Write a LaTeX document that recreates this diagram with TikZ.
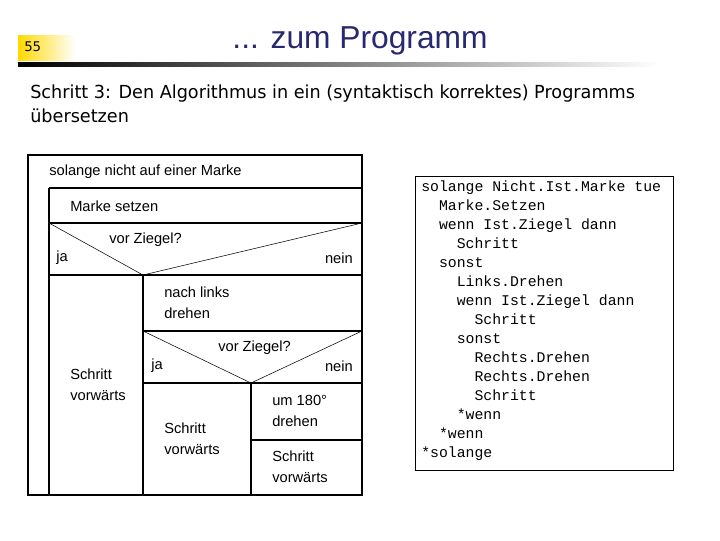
\documentclass[tikz,border=0pt]{standalone}
\usepackage{fontspec}
\setmainfont{Liberation Sans}
\newfontfamily\codefont{Liberation Mono}
\newfontfamily\tahoma{DejaVu Sans}
\usetikzlibrary{positioning}
\definecolor{titleblue}{RGB}{40,40,110}
\begin{document}
\begin{tikzpicture}[x=0.75pt,y=-0.75pt,
  lab/.style={anchor=west,font=\fontsize{11}{13}\selectfont,align=left,inner sep=0pt},
  box/.style={draw,line width=0.9pt}]
\useasboundingbox (0,0) rectangle (720,540);
% header
\shade[left color=yellow!70!orange,right color=white] (18,35) rectangle (75,60);
\node[anchor=west,inner sep=0pt,font=\fontsize{10}{12}\selectfont\tahoma] (pg) at (24,47) {55};
\shade[left color=black,right color=white] (18,62) rectangle (660,66);
\node[inner sep=0pt,text=titleblue,font=\fontsize{23.8}{28}\selectfont] (title) at (360,41) {... zum Programm};
\node[anchor=north west,inner sep=0pt,align=left,font=\fontsize{13.5}{17.5}\selectfont\tahoma\addfontfeatures{FakeStretch=0.98}] (sub) at (30,85) {Schritt 3: Den Algorithmus in ein (syntaktisch korrektes) Programms\\übersetzen};
% structogram
\draw[box] (28,155) rectangle (362,495);
\draw[box] (49,188) -- (362,188);
\draw[box] (49,188) -- (49,495);
\draw[box] (49,223) -- (362,223);
\draw[box] (49,275) -- (362,275);
\draw (49,223) -- (143,275) -- (362,223);
\draw[box] (143,275) -- (143,495);
\draw[box] (143,331) -- (362,331);
\draw[box] (143,383) -- (362,383);
\draw (143,331) -- (251,383) -- (362,331);
\draw[box] (251,383) -- (251,495);
\draw[box] (251,440) -- (362,440);
\node[lab] (l1) at (49,172) {solange nicht auf einer Marke};
\node[lab] (l2) at (70,206) {Marke setzen};
\node[lab] (d1) at (109,240) {vor Ziegel?};
\node[lab] (j1) at (56,258) {ja};
\node[lab,anchor=east] (n1) at (353,258) {nein};
\node[lab,anchor=west] (s1) at (70,385) {Schritt\\[3pt]vorwärts};
\node[lab] (nl) at (164,303) {nach links\\[3pt]drehen};
\node[lab] (d2) at (218,348) {vor Ziegel?};
\node[lab] (j2) at (151,366) {ja};
\node[lab,anchor=east] (n2) at (353,366) {nein};
\node[lab] (s2) at (164,439) {Schritt\\[3pt]vorwärts};
\node[lab] (um) at (272,411) {um 180°\\[3pt]drehen};
\node[lab] (s3) at (272,467) {Schritt\\[3pt]vorwärts};
% code
\draw[line width=0.6pt] (415,176) rectangle (673,470);
\node[anchor=north west,inner sep=0pt,align=left,font=\fontsize{11.1}{14.25}\selectfont\codefont] (code) at (421,180) {%
solange Nicht.Ist.Marke tue\\
\ \ Marke.Setzen\\
\ \ wenn Ist.Ziegel dann\\
\ \ \ \ Schritt\\
\ \ sonst\\
\ \ \ \ Links.Drehen\\
\ \ \ \ wenn Ist.Ziegel dann\\
\ \ \ \ \ \ Schritt\\
\ \ \ \ sonst\\
\ \ \ \ \ \ Rechts.Drehen\\
\ \ \ \ \ \ Rechts.Drehen\\
\ \ \ \ \ \ Schritt\\
\ \ \ \ *wenn\\
\ \ *wenn\\
*solange};
\end{tikzpicture}
\end{document}
